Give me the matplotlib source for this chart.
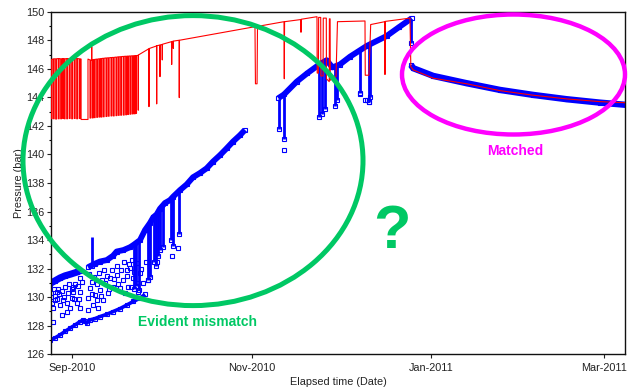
import datetime as dt
import numpy as np
import matplotlib
matplotlib.use("Agg")
import matplotlib.pyplot as plt
import matplotlib.dates as mdates
from matplotlib.patches import Ellipse
from matplotlib.ticker import MultipleLocator

plt.rcParams["font.family"] = ["Liberation Sans", "DejaVu Sans"]

START = dt.datetime(2010, 9, 1)

# ---------------- simulated pressure (red) ----------------
# flow/shut-in cycles of the early period: close day, reopen day, level before, level reached
red_cycle_close = [-7.24, -6.46, -5.65, -4.76, -3.95, -3.27, -2.72, -1.90, -1.02, -0.20, 0.68, 1.50, 2.38, 3.00,
                   6.02, 6.58, 6.80, 7.48, 8.30, 9.08, 9.76, 10.54, 11.46, 12.24, 13.16, 13.95, 14.86,
                   15.65, 16.46, 17.35, 18.16, 18.84, 19.63, 20.41, 21.09, 21.60]
red_cycle_open = [-6.94, -6.16, -5.35, -4.46, -3.65, -3.00, -2.45, -1.60, -0.72, 0.10, 0.98, 1.80, 2.68, 5.34,
                  6.30, 6.64, 7.10, 7.78, 8.60, 9.38, 10.06, 10.84, 11.76, 12.54, 13.46, 14.25, 15.16,
                  15.95, 16.76, 17.65, 18.46, 19.14, 19.93, 20.71, 21.39, 21.85]
red_cycle_high = [146.65, 146.70, 146.70, 146.72, 146.70, 146.72, 146.70, 146.72, 146.70, 146.72, 146.70, 146.72, 146.70, 146.68,
                  146.62, 146.62, 146.64, 146.66, 146.68, 146.70, 146.72, 146.74, 146.76, 146.77, 146.79, 146.80, 146.82,
                  146.84, 146.85, 146.87, 146.88, 146.89, 146.90, 146.91, 146.92, 146.92]
red_cycle_low = [142.50, 142.50, 142.48, 142.50, 142.50, 142.52, 142.50, 142.50, 142.52, 142.50, 142.52, 142.50, 142.52, 142.45,
                 142.55, 147.55, 142.56, 142.58, 142.60, 142.62, 142.62, 142.64, 142.66, 142.68, 142.70, 142.70, 142.72,
                 142.74, 142.75, 142.76, 142.78, 142.80, 142.82, 142.84, 142.85, 142.88]

red_tail_day = [22.40, 22.45, 22.52, 26.00, 26.09, 26.16, 28.65, 28.71, 28.78, 29.77, 29.83, 29.90,
                30.55, 30.61, 30.68, 33.75, 33.81, 33.88, 34.29, 34.35, 34.42, 36.33, 36.39, 36.46,
                62.14, 62.30, 62.85, 63.00, 72.01, 72.11, 72.21, 77.72, 77.79, 77.86,
                83.23, 83.30, 83.70, 83.80, 84.50, 84.55, 85.30, 85.37, 86.40, 86.45, 87.40, 87.45,
                87.70, 87.75, 89.70, 90.20, 99.56, 99.65, 100.90, 101.50, 106.29, 106.36, 106.43,
                114.86, 115.15, 115.99, 122.79, 134.15, 145.48, 156.80, 168.16, 179.49, 188.60]
red_tail_p = [146.95, 143.10, 146.97, 147.40, 143.35, 147.42, 147.60, 143.54, 147.62, 147.66, 145.45, 147.67,
              147.70, 146.62, 147.72, 147.90, 146.30, 147.91, 147.93, 147.43, 147.94, 148.00, 143.98, 148.00,
              148.95, 144.95, 144.95, 148.97, 149.30, 145.30, 149.30, 149.45, 148.56, 149.47,
              149.65, 145.70, 145.70, 149.60, 149.60, 145.50, 145.50, 149.55, 149.55, 145.30, 145.10, 149.50,
              149.50, 145.20, 145.45, 149.30, 149.35, 145.55, 145.55, 149.10, 149.30, 145.60, 149.32,
              149.55, 146.15, 145.92, 145.34, 144.95, 144.47, 144.15, 143.89, 143.70, 143.62]

# ---------------- measured pressure (blue) ----------------
# continuous trends (days since 2010-09-01, bar)
blue_lower_day = [-7.59, -5.88, -4.18, -2.48, -0.78, 0.92, 2.62, 3.74, 4.32, 4.90, 6.02, 7.72, 9.42, 11.70,
                  13.84, 16.22, 18.61, 20.75, 23.03, 24.73]
blue_lower_p = [127.00, 127.15, 127.36, 127.60, 127.83, 128.05, 128.29, 128.41, 128.30, 128.18, 128.41, 128.50,
                128.64, 128.80, 128.99, 129.20, 129.46, 129.70, 129.93, 130.20]

blue_early_day = [-7.59, -5.88, -4.18, -2.48, -0.78, 1.50, 2.62]
blue_early_p = [130.95, 131.15, 131.35, 131.50, 131.60, 131.75, 131.85]

blue_rise_day = [5.34, 7.72, 9.42, 11.70, 13.84, 15.10, 17.35, 19.63, 20.75, 23.03, 24.73, 26.43, 27.55, 28.71,
                 29.83, 31.53, 33.23, 34.35, 36.63, 38.91, 41.05, 43.44, 45.71, 47.86, 50.24, 52.52, 54.66,
                 57.04, 58.74]
blue_rise_p = [132.10, 132.35, 132.50, 132.60, 132.90, 133.20, 133.30, 133.50, 133.65, 134.00, 134.70, 135.20,
               135.60, 135.80, 136.20, 136.60, 136.80, 137.05, 137.50, 137.90, 138.40, 138.70, 139.03, 139.50,
               139.95, 140.43, 140.90, 141.35, 141.72]

blue_late_day = [70.07, 72.00, 76.33, 80.00, 84.00, 86.50, 88.50, 91.00, 94.46, 100.14, 106.94, 111.00, 115.44]
blue_late_p = [143.94, 144.20, 145.10, 145.70, 146.30, 146.60, 146.10, 146.30, 146.85, 147.60, 148.30, 148.90, 149.54]

blue_decline_day = [115.20, 115.99, 122.79, 134.15, 145.48, 156.80, 168.16, 179.49, 188.60]
blue_decline_p = [146.27, 146.04, 145.50, 144.99, 144.52, 144.17, 143.87, 143.63, 143.47]

# shut-in build-up columns: day, top, bottom
blue_col_day = [6.60, 20.90, 21.75, 22.77, 25.60, 26.28, 27.82, 28.50, 29.16, 29.83, 30.85, 33.74, 34.25, 36.39,
                70.30, 72.11, 83.80, 84.80, 85.80, 89.30, 90.00, 97.80, 100.80, 101.40, 115.30]
blue_col_top = [134.24, 133.60, 133.80, 134.00, 135.00, 135.20, 135.60, 135.75, 136.00, 136.20, 136.40, 136.90,
                137.00, 137.55, 143.90, 144.30, 146.40, 146.50, 146.60, 146.20, 146.30, 147.30, 147.60, 147.80, 149.50]
blue_col_bottom = [132.20, 130.60, 130.80, 130.50, 131.20, 131.40, 132.50, 132.20, 132.90, 133.30, 133.50, 134.00,
                   133.60, 134.40, 141.80, 141.10, 142.65, 142.80, 143.20, 143.40, 143.80, 144.30, 143.70, 144.00, 147.80]

# isolated build-up readings
blue_pt_day = [-6.46, -6.46, -5.88, -5.31, -3.61, -4.18, -3.06, -1.90, -0.78, -0.20, 0.34, 0.34, 1.50, 2.62,
               2.62, 3.20, 2.62, 5.44, 5.44, 6.02, 6.60, 7.14, 7.72, 8.30, 8.84, 9.42, 10.54, 11.12, 12.24,
               12.82, 13.95, 15.10, 16.22, 17.35, 18.50, 19.05, 19.63, 20.75, 21.90, 22.45, 23.03, 25.85,
               28.71, 33.81, 36.05, 72.11, 97.80, 99.50, 100.30, 101.00,
               -7.41, -7.07, -6.90, -6.22, -5.71, -5.20, -4.69, -4.52, -3.50, -2.82, -2.48, -1.80, -1.46,
               -1.12, -0.10, 0.58, 0.92, 1.94, 2.28, 5.68, 6.70, 7.38, 8.40, 9.08, 9.76, 10.10, 10.78,
               11.80, 12.48, 13.50, 14.18, 15.20, 15.54, 16.56, 17.59, 17.93, 18.61, 19.29, 19.97, 20.31,
               20.99, 22.01, 23.37, 24.05, 25.07]
blue_pt_p = [128.29, 129.23, 129.81, 130.39, 128.76, 129.46, 129.81, 128.99, 129.23, 129.93, 130.74, 130.39,
             129.58, 129.23, 130.39, 131.09, 131.33, 129.93, 129.11, 130.63, 131.09, 129.46, 130.16, 129.81,
             129.23, 130.51, 129.81, 130.98, 130.28, 131.33, 130.74, 131.56, 130.63, 131.21, 131.91, 130.74,
             132.03, 131.33, 130.98, 130.39, 131.68, 131.21, 132.49, 132.89, 133.43, 140.30, 144.20, 143.80,
             143.80, 143.70,
             130.30, 130.00, 129.60, 130.60, 130.10, 129.90, 130.60, 130.20, 130.40, 130.00, 130.70, 129.60,
             130.30, 130.90, 130.60, 129.90, 130.90, 130.80, 129.90, 131.60, 130.20, 131.40, 130.90, 131.70,
             130.10, 131.20, 131.90, 131.50, 130.60, 131.90, 131.30, 132.20, 130.90, 131.90, 132.50, 130.30,
             131.50, 132.30, 130.70, 132.60, 131.80, 132.40, 132.00, 131.00, 132.50]

x_ticks = [dt.datetime(2010, 9, 1), dt.datetime(2010, 11, 1), dt.datetime(2011, 1, 1), dt.datetime(2011, 3, 1)]
x_range = (-7.24, 188.0)
y_range = (126, 150)


def to_num(days):
    return mdates.date2num(START) + np.asarray(days, dtype=float)


# assemble the simulated curve from its cycles and tail
red_d, red_v = [], []
for c, o, hi, lo in zip(red_cycle_close, red_cycle_open, red_cycle_high, red_cycle_low):
    red_d += [c, c, o, o]
    red_v += [hi, lo, lo, hi]
red_d += red_tail_day
red_v += red_tail_p

BLUE = "#0000FF"
RED = "#FF0000"
GREEN = "#00C864"
MAGENTA = "#FF00FF"

fig = plt.figure(figsize=(6.28, 3.92), dpi=100)
ax = fig.add_axes([51 / 628, 37.7 / 392, 574 / 628, 342.6 / 392])

ms = 3.0
mk = dict(marker="s", ms=ms, mfc="none", mec=BLUE, mew=0.8, ls="none")

for d, p, lw in [(blue_lower_day, blue_lower_p, 2.6), (blue_early_day, blue_early_p, 5.0),
                 (blue_rise_day, blue_rise_p, 4.2), (blue_late_day, blue_late_p, 4.2),
                 (blue_decline_day, blue_decline_p, 4.6)]:
    ax.plot(to_num(d), p, color=BLUE, lw=lw, solid_capstyle="butt", zorder=2)
    ax.plot(to_num(d), p, **mk, zorder=2)

ax.vlines(to_num(blue_col_day), blue_col_bottom, blue_col_top, color=BLUE, lw=2.0, zorder=2)
ax.plot(to_num(blue_col_day), blue_col_bottom, **mk, zorder=2)
ax.plot(to_num(blue_pt_day), blue_pt_p, **mk, zorder=2)

ax.plot(to_num(red_d), red_v, color=RED, lw=0.8, zorder=3)

ax.set_xlim(to_num(x_range[0]), to_num(x_range[1]))
ax.set_ylim(*y_range)
ax.set_xticks(mdates.date2num(x_ticks))
ax.xaxis.set_major_formatter(mdates.DateFormatter("%b-%Y"))
ax.yaxis.set_major_locator(MultipleLocator(2))
ax.yaxis.set_minor_locator(MultipleLocator(1))
ax.tick_params(axis="both", which="major", direction="out", length=3, width=0.8, labelsize=7.8,
               colors="#222222")
ax.tick_params(axis="y", which="minor", direction="out", length=1.8, width=0.8)
ax.tick_params(axis="y", which="major", pad=1.5)
ax.tick_params(axis="x", which="major", pad=3)
for s in ax.spines.values():
    s.set_linewidth(1.0)
    s.set_color("#111111")
ax.set_ylabel("Pressure (bar)", fontsize=7.8, labelpad=2, color="#222222")
ax.set_xlabel("Elapsed time (Date)", fontsize=7.8, labelpad=3, color="#222222")

# annotation layer in pixel coordinates
ov = fig.add_axes([0, 0, 1, 1], zorder=10)
ov.set_xlim(0, 628)
ov.set_ylim(392, 0)
ov.axis("off")
ov.patch.set_alpha(0)
ov.add_patch(Ellipse((193, 160.6), 340, 290, fill=False, ec=GREEN, lw=3.6))
ov.add_patch(Ellipse((513.5, 74.5), 223, 120, fill=False, ec=MAGENTA, lw=3.2))
ov.text(197, 322, "Evident mismatch", color=GREEN, fontsize=10, fontweight="bold", ha="center", va="center")
ov.text(515, 151, "Matched", color=MAGENTA, fontsize=10, fontweight="bold", ha="center", va="center")
ov.text(392, 232, "?", color=GREEN, fontsize=44, fontweight="bold", ha="center", va="center")

fig.savefig("out.png", dpi=100)
